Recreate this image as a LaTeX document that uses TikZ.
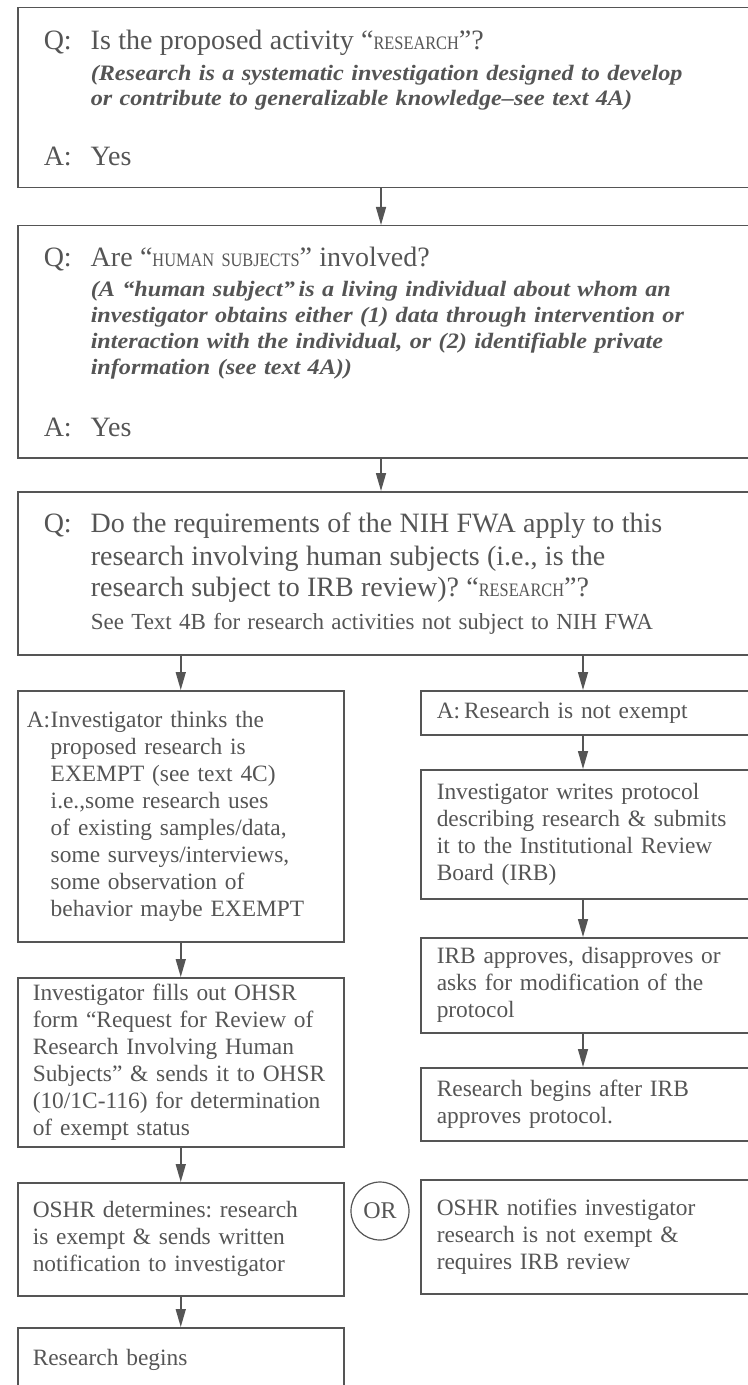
\documentclass[tikz,border=0pt]{standalone}
\usepackage{fontspec}
\setmainfont{Liberation Serif}
\newfontfamily\notefam{Liberation Serif}[FakeStretch=1.1]
\newfontfamily\capfam{Liberation Serif}[FakeStretch=0.86]
\usetikzlibrary{arrows.meta}
\frenchspacing

\definecolor{inkgray}{RGB}{85,85,85}
\newcommand{\fsc}[1]{{\capfam\fontsize{9.5}{11}\selectfont #1}}
\newcommand{\qsize}{\fontsize{14}{13}\selectfont}
\newcommand{\notefont}{\notefam\fontsize{11}{13}\selectfont\bfseries\itshape}

\begin{document}
\begin{tikzpicture}[%
    x=1pt, y=1pt,
    every node/.style={text=inkgray},
    panel/.style={
      rectangle, draw=inkgray, line width=0.75pt,
      anchor=north west, align=left, inner ysep=0pt,
      font=\fontsize{11.7}{13.5}\selectfont
    },
    widepanel/.style={panel, inner xsep=13pt, text width=345.5pt,
      font=\fontsize{11}{13}\selectfont},
    leftpanel/.style={panel, inner xsep=7.5pt, text width=148pt},
    rightpanel/.style={panel, inner xsep=8pt, text width=154pt},
    flow/.style={draw=inkgray, line width=0.75pt, -{Triangle[length=9pt,width=5pt]}},
    orsign/.style={circle, draw=inkgray, line width=0.6pt, minimum size=29pt,
      inner sep=0pt, font=\fontsize{12}{14}\selectfont}
  ]
  \pgfmathsetmacro{\leftx}{8.5}
  \pgfmathsetmacro{\rightx}{210}
  \pgfmathsetmacro{\hang}{23.5}

  \useasboundingbox (0,0) rectangle (374,-692.5);
  \clip (0,0) rectangle (374,-692.5);

  \coordinate (midcol) at (190.5,0);
  \coordinate (rcol) at (291.5,0);

  % Questions
  \node[widepanel, minimum height=90pt] (q1) at (\leftx,-3.5) {%
    \makebox[\hang pt][l]{\qsize Q:}{\qsize Is the proposed activity “\fsc{RESEARCH}”?}\\[2.5pt]
    \hspace*{\hang pt}{\notefont (Research is a systematic investigation designed to develop}\\[-0.5pt]
    \hspace*{\hang pt}{\notefont or contribute to generalizable knowledge–see text 4A)}\\[17pt]
    \makebox[\hang pt][l]{\qsize A:}{\qsize Yes}};

  \node[widepanel, minimum height=116pt] (q2) at (\leftx,-112.5) {%
    \makebox[\hang pt][l]{\qsize Q:}{\qsize Are “\fsc{HUMAN SUBJECTS}” involved?}\\[2pt]
    \hspace*{\hang pt}{\notefont (A “human subject”\,is a living individual about whom an}\\
    \hspace*{\hang pt}{\notefont investigator obtains either (1) data through intervention or}\\
    \hspace*{\hang pt}{\notefont interaction with the individual, or (2) identifiable private}\\
    \hspace*{\hang pt}{\notefont information (see text 4A))}\\[18pt]
    \makebox[\hang pt][l]{\qsize A:}{\qsize Yes}};

  \node[widepanel, minimum height=81.5pt] (q3) at (\leftx,-245.5) {%
    \makebox[\hang pt][l]{\qsize Q:}{\qsize Do the requirements of the NIH FWA apply to this}\\[3.5pt]
    \hspace*{\hang pt}{\qsize research involving human subjects (i.e., is the}\\[2.5pt]
    \hspace*{\hang pt}{\qsize research subject to IRB review)? “\fsc{RESEARCH}”?}\\[3.5pt]
    \hspace*{\hang pt}{\fontsize{11.5}{13}\selectfont See Text 4B for research activities not subject to NIH FWA}};

  % Exempt branch
  \node[panel, inner xsep=4.5pt, text width=154pt, minimum height=125.5pt] (la) at (\leftx,-345) {%
    \makebox[12pt][l]{A:}Investigator thinks the\\
    \hspace*{12pt}proposed research is\\
    \hspace*{12pt}EXEMPT (see text 4C)\\
    \hspace*{12pt}i.e.,some research uses\\
    \hspace*{12pt}of existing samples/data,\\
    \hspace*{12pt}some surveys/interviews,\\
    \hspace*{12pt}some observation of\\
    \hspace*{12pt}behavior maybe EXEMPT};

  \node[leftpanel, minimum height=84.5pt] (lb) at (\leftx,-488.5) {%
    Investigator fills out OHSR\\
    form “Request for Review of\\
    Research Involving Human\\
    Subjects” \& sends it to OHSR\\
    (10/1C-116) for determination\\
    of exempt status};

  \node[leftpanel, minimum height=56.5pt] (lc) at (\leftx,-591) {%
    OSHR determines: research\\
    is exempt \& sends written\\
    notification to investigator};

  \node[leftpanel, minimum height=32pt] (ld) at (\leftx,-663.5) {Research begins};

  % Not exempt branch
  \node[rightpanel, minimum height=22pt] (ra) at (\rightx,-345) {A:\,Research is not exempt};

  \node[rightpanel, minimum height=64.5pt] (rb) at (\rightx,-384.5) {%
    Investigator writes protocol\\
    describing research \& submits\\
    it to the Institutional Review\\
    Board (IRB)};

  \node[rightpanel, minimum height=47.5pt] (rc) at (\rightx,-468.5) {%
    IRB approves, disapproves or\\
    asks for modification of the\\
    protocol};

  \node[rightpanel, minimum height=36.5pt] (rd) at (\rightx,-533.5) {%
    Research begins after IRB\\
    approves protocol.};

  \node[rightpanel, minimum height=57pt] (re) at (\rightx,-589.5) {%
    OSHR notifies investigator\\
    research is not exempt \&\\
    requires IRB review};

  \node[orsign] (or) at (190,-605.5) {OR};

  % Arrows
  \draw[flow] (q1.south -| midcol) -- (q2.north -| midcol);
  \draw[flow] (q2.south -| midcol) -- (q3.north -| midcol);
  \draw[flow] (q3.south -| la.north) -- (la.north);
  \draw[flow] (la.south) -- (lb.north);
  \draw[flow] (lb.south) -- (lc.north);
  \draw[flow] (lc.south) -- (ld.north);
  \draw[flow] (q3.south -| rcol) -- (ra.north -| rcol);
  \draw[flow] (ra.south -| rcol) -- (rb.north -| rcol);
  \draw[flow] (rb.south -| rcol) -- (rc.north -| rcol);
  \draw[flow] (rc.south -| rcol) -- (rd.north -| rcol);
\end{tikzpicture}
\end{document}
